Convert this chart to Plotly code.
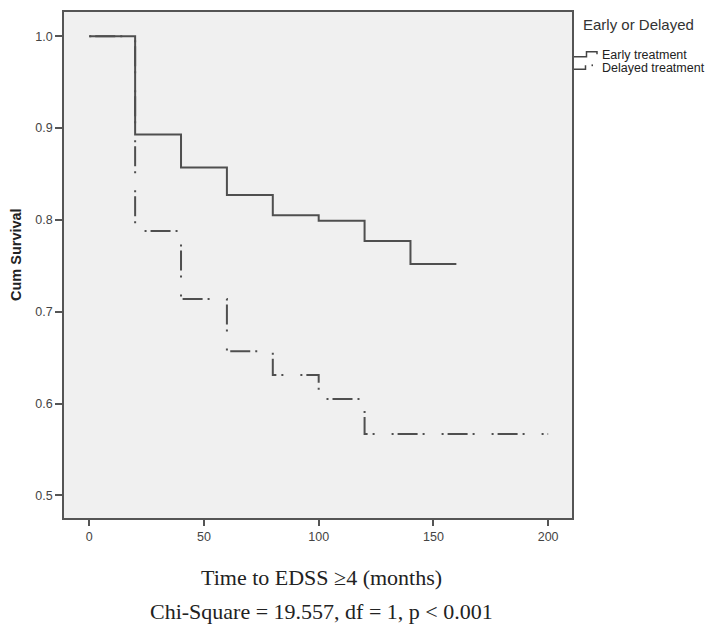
import plotly.graph_objects as go

# Kaplan-Meier step estimates (time in months, cumulative survival)
early_time = [0, 20, 40, 60, 80, 100, 120, 140, 160]
early_surv = [1.0, 0.893, 0.857, 0.827, 0.805, 0.799, 0.777, 0.752, 0.752]

delayed_time = [0, 20, 40, 60, 80, 100, 120, 200]
delayed_surv = [1.0, 0.788, 0.714, 0.657, 0.631, 0.605, 0.567, 0.567]

x_ticks = [0, 50, 100, 150, 200]
y_ticks = [0.5, 0.6, 0.7, 0.8, 0.9, 1.0]

group_title = "Early or Delayed"
group_names = ["Early treatment", "Delayed treatment"]
x_title = "Time to EDSS \u22654 (months)"
y_title = "Cum Survival"
test_note = "Chi-Square = 19.557, df = 1, p < 0.001"

W, H = 709, 631
L, R, T, B = 64, 137, 10, 113
PW, PH = W - L - R, H - T - B

LINE = "#4f4f4f"
FRAME = "#555555"
SANS = "Liberation Sans, Arial, sans-serif"
SERIF = "Liberation Serif, Times New Roman, serif"


def px(x):
    """Horizontal pixel position -> paper fraction."""
    return (x - L) / PW


def py(y):
    """Vertical pixel position (from top) -> paper fraction."""
    return (H - B - y) / PH


fig = go.Figure()

fig.add_trace(go.Scatter(
    x=early_time, y=early_surv, mode="lines", line_shape="hv",
    name=group_names[0], line=dict(color=LINE, width=2),
    showlegend=False,
))
fig.add_trace(go.Scatter(
    x=delayed_time, y=delayed_surv, mode="lines", line_shape="hv",
    name=group_names[1],
    line=dict(color=LINE, width=2, dash="2px,4px,20px,5px,2px,17px"),
    showlegend=False,
))


def path(points):
    return "M " + " L ".join(f"{px(a):.5f},{py(b):.5f}" for a, b in points)


shapes = [
    # legend key: solid step
    dict(type="path", xref="paper", yref="paper",
         path=path([(574, 55), (586.5, 55), (586.5, 50), (597, 50), (597, 52.5)]),
         line=dict(color="#444444", width=1.5)),
    # legend key: dash-dot step
    dict(type="path", xref="paper", yref="paper",
         path=path([(574, 67.5), (585.5, 67.5), (585.5, 63.5)]),
         line=dict(color="#444444", width=1.5)),
    dict(type="path", xref="paper", yref="paper",
         path=path([(591.5, 63.5), (593, 63.5)]),
         line=dict(color="#444444", width=1.8)),
]

annotations = [
    dict(text=group_title, x=px(581), y=py(23), xref="paper", yref="paper",
         xanchor="left", yanchor="middle", showarrow=False,
         font=dict(family=SANS, size=15, color="#333333")),
    dict(text=group_names[0], x=px(599.5), y=py(53), xref="paper", yref="paper",
         xanchor="left", yanchor="middle", showarrow=False,
         font=dict(family=SANS, size=12.5, color="#222222")),
    dict(text=group_names[1], x=px(599.5), y=py(66), xref="paper", yref="paper",
         xanchor="left", yanchor="middle", showarrow=False,
         font=dict(family=SANS, size=12.5, color="#222222")),
    dict(text=f"<b>{y_title}</b>", x=px(16), y=py(254), xref="paper", yref="paper",
         xanchor="center", yanchor="middle", textangle=-90, showarrow=False,
         font=dict(family=SANS, size=14.5, color="#222222")),
    dict(text=x_title, x=px(321), y=py(578), xref="paper", yref="paper",
         xanchor="center", yanchor="middle", showarrow=False,
         font=dict(family=SERIF, size=22, color="#222222")),
    dict(text=test_note, x=px(321), y=py(612), xref="paper", yref="paper",
         xanchor="center", yanchor="middle", showarrow=False,
         font=dict(family=SERIF, size=22, color="#222222")),
]

fig.update_layout(
    width=W, height=H,
    margin=dict(l=L, r=R, t=T, b=B, pad=0),
    paper_bgcolor="white",
    plot_bgcolor="#f0f0f0",
    showlegend=False,
    shapes=shapes,
    annotations=annotations,
    xaxis=dict(
        range=[-11.0, 210.4], tickvals=x_ticks, ticktext=[str(v) for v in x_ticks],
        ticks="outside", ticklen=6, tickwidth=1.5, tickcolor=FRAME,
        showline=True, mirror=True, linecolor=FRAME, linewidth=1.5,
        showgrid=False, zeroline=False,
        tickfont=dict(family=SANS, size=12.5, color="#444444"),
    ),
    yaxis=dict(
        range=[0.4754, 1.0264], tickvals=y_ticks, ticktext=[f"{v:.1f}" for v in y_ticks],
        ticks="outside", ticklen=7, tickwidth=1.5, tickcolor=FRAME,
        showline=True, mirror=True, linecolor=FRAME, linewidth=1.5,
        showgrid=False, zeroline=False,
        tickfont=dict(family=SANS, size=12.5, color="#444444"),
    ),
)

fig.write_html("out.html")
